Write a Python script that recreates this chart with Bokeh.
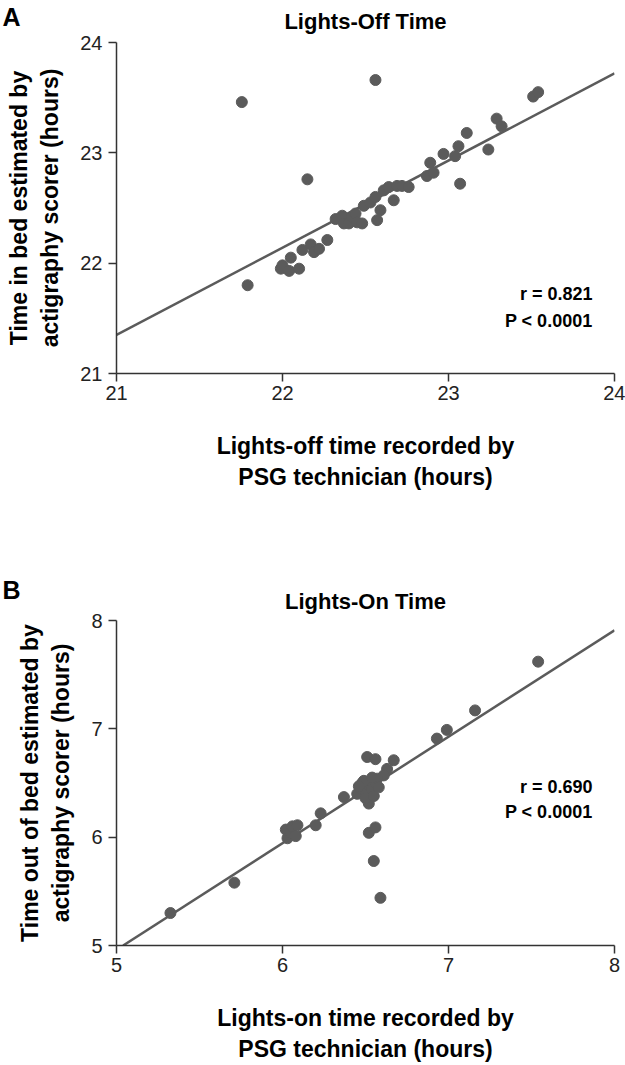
from bokeh.plotting import figure
from bokeh.layouts import column
from bokeh.models import FixedTicker, Label, Range1d, Title
from bokeh.embed import file_html
from bokeh.resources import INLINE

# ---- Panel A: lights-off ----
off_psg = [21.755, 22.56, 22.15, 21.79,
           21.99, 22.00, 22.04, 22.05, 22.10, 22.12, 22.17, 22.19, 22.22, 22.27,
           22.32, 22.36, 22.37, 22.40, 22.42, 22.44, 22.45, 22.48, 22.49, 22.53,
           22.56, 22.59, 22.57, 22.61, 22.64, 22.67, 22.69, 22.72, 22.76,
           22.87, 22.89, 22.91, 22.97, 23.04, 23.06, 23.07, 23.11, 23.24, 23.29,
           23.32, 23.51, 23.54]
off_act = [23.46, 23.66, 22.76, 21.80,
           21.95, 21.98, 21.93, 22.05, 21.95, 22.12, 22.17, 22.10, 22.13, 22.21,
           22.40, 22.43, 22.36, 22.36, 22.42, 22.45, 22.37, 22.36, 22.52, 22.55,
           22.60, 22.48, 22.39, 22.66, 22.69, 22.57, 22.70, 22.70, 22.69,
           22.79, 22.91, 22.82, 22.99, 22.97, 23.06, 22.72, 23.18, 23.03, 23.31,
           23.24, 23.51, 23.55]
off_fit_x = [21.0, 24.0]
off_fit_y = [21.35, 23.72]
off_ticks = [21, 22, 23, 24]
off_stats = ["r = 0.821", "P < 0.0001"]

# ---- Panel B: lights-on ----
on_psg = [5.325, 5.71, 6.02, 6.03, 6.05, 6.08, 6.06, 6.09, 6.20, 6.23, 6.37,
          6.52, 6.52, 6.56, 6.55, 6.59, 6.51, 6.56, 6.67, 6.63, 6.61,
          6.45, 6.47, 6.48, 6.50, 6.50, 6.52, 6.53, 6.54, 6.55, 6.56, 6.57,
          6.58, 6.49, 6.46, 6.54,
          6.93, 6.99, 7.16, 7.54]
on_act = [5.30, 5.58, 6.07, 5.99, 6.04, 6.01, 6.10, 6.11, 6.11, 6.22, 6.37,
          6.31, 6.04, 6.09, 5.78, 5.44, 6.74, 6.72, 6.71, 6.63, 6.57,
          6.40, 6.45, 6.50, 6.42, 6.36, 6.48, 6.52, 6.44, 6.38, 6.50, 6.54,
          6.46, 6.52, 6.47, 6.55,
          6.91, 6.99, 7.17, 7.62]
on_fit_x = [5.04, 8.0]
on_fit_y = [5.0, 7.91]
on_ticks = [5, 6, 7, 8]
on_stats = ["r = 0.690", "P < 0.0001"]

FONT = "Liberation Sans"
GREY = "#5b5b5b"
AXIS = "#333333"


def panel(xs, ys, fx, fy, ticks, stats, title, letter, xlabel, ylabel,
          height, top, bottom, stat_y, letter_standoff, title_y):
    lo, hi = ticks[0], ticks[-1]
    ppx = 498.0 / (hi - lo)
    p = figure(width=625, height=height,
               x_range=Range1d(lo, hi), y_range=Range1d(lo, hi),
               output_backend="svg", toolbar_location=None,
               min_border_left=116, min_border_right=11,
               min_border_top=top, min_border_bottom=bottom)
    p.outline_line_color = None
    p.grid.visible = False
    p.background_fill_color = "white"
    p.border_fill_color = "white"

    for ax in (p.xaxis[0], p.yaxis[0]):
        ax.ticker = FixedTicker(ticks=ticks)
        ax.minor_tick_line_color = None
        ax.major_tick_out = 8
        ax.major_tick_in = 0
        ax.axis_line_color = AXIS
        ax.axis_line_width = 1.5
        ax.major_tick_line_color = AXIS
        ax.major_tick_line_width = 1.5
        ax.major_label_text_font = FONT
        ax.major_label_text_font_size = "20px"
        ax.major_label_text_color = "#222222"
        ax.axis_label_text_font = FONT
        ax.axis_label_text_font_size = "23px"
        ax.axis_label_text_font_style = "bold"
        ax.axis_label_text_color = "black"
    p.xaxis.axis_label = xlabel
    p.yaxis.axis_label = ylabel
    p.xaxis.axis_label_standoff = 30
    p.yaxis.axis_label_standoff = 14
    p.xaxis.major_label_standoff = 4
    p.yaxis.major_label_standoff = 6

    p.line(fx, fy, line_color=GREY, line_width=2.5)
    p.scatter(xs, ys, size=11, fill_color=GREY, line_color=GREY)

    for txt, yv in zip(stats, stat_y):
        p.add_layout(Label(x=hi - 22.0 / ppx, y=yv, text=txt,
                           text_align="right", text_baseline="alphabetic",
                           text_font=FONT, text_font_size="18px",
                           text_font_style="bold", text_color="black"))

    # main title: a label in the band right above the frame, centred on it
    p.add_layout(Label(x=249, y=title_y, x_units="screen", y_units="screen",
                       text=title, text_font=FONT, text_font_size="22px",
                       text_font_style="bold", text_color="black",
                       text_baseline="alphabetic", text_align="center"),
                 "above")
    # panel letter: a left-aligned title, pulled down beside the main title
    p.add_layout(Title(text=letter, align="left", offset=-114,
                       text_font=FONT, text_font_size="25px",
                       text_font_style="bold", text_color="black",
                       standoff=letter_standoff), "above")
    return p


pa = panel(off_psg, off_act, off_fit_x, off_fit_y, off_ticks, off_stats,
           "Lights-Off Time", "A",
           "Lights-off time recorded by\nPSG technician (hours)",
           "Time in bed estimated by\nactigraphy scorer (hours)",
           520, 42, 147, [21.72, 21.48], -26, 21)
pb = panel(on_psg, on_act, on_fit_x, on_fit_y, on_ticks, on_stats,
           "Lights-On Time", "B",
           "Lights-on time recorded by\nPSG technician (hours)",
           "Time out of bed estimated by\nactigraphy scorer (hours)",
           544, 100, 112, [6.46, 6.23], -16, 19)

layout = column(pa, pb, spacing=0)
open("out.html", "w").write(file_html(layout, INLINE))
